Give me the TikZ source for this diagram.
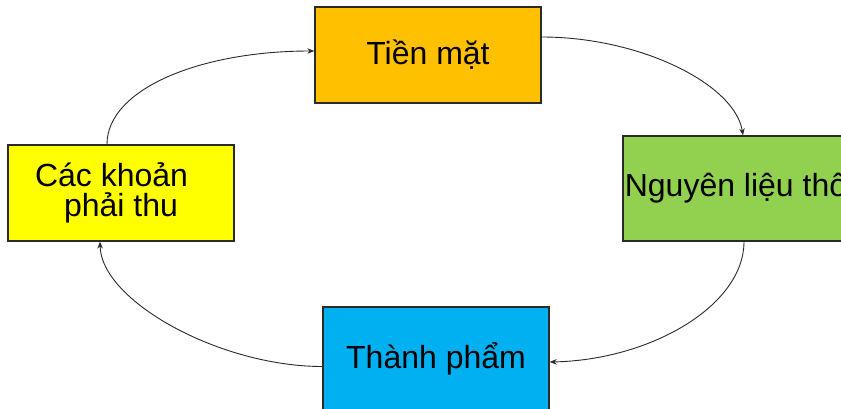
\documentclass[tikz,border=0pt]{standalone}
\usepackage{fontspec}
\setmainfont{Liberation Sans}
\usetikzlibrary{arrows.meta}
\definecolor{cashc}{HTML}{FFC000}
\definecolor{rawc}{HTML}{92D050}
\definecolor{prodc}{HTML}{00B0F0}
\definecolor{recc}{HTML}{FFFF00}
\definecolor{edgec}{HTML}{2A2A2A}
\tikzset{
  stagebox/.style={draw=edgec, line width=1.3pt, inner sep=0pt, minimum width=226pt,
    font=\fontsize{32pt}{30pt}\selectfont, text=black, align=center},
  flow/.style={draw=edgec, line width=0.9pt, -{Stealth[length=7pt,width=5.5pt]}}
}
\begin{document}
\begin{tikzpicture}[x=1pt,y=-1pt]
\useasboundingbox (0,0) rectangle (841,409);
\clip (0,0) rectangle (841,409);
\node[stagebox, fill=cashc, minimum height=96pt] (tien) at (428,55) {Tiền mặt};
\node[stagebox, fill=rawc, minimum height=105pt] (nguyen) at (736,188.5) {Nguyên liệu thô};
\node[stagebox, fill=prodc, minimum height=103pt] (thanh) at (436,358.5) {Thành phẩm};
\node[stagebox, fill=recc, minimum height=96pt] (cac) at (121,193) {Các khoản\hspace*{19pt}\\phải thu};
\draw[flow] ([yshift=18pt]tien.east) .. controls +(99,0) and +(-8,-51) .. ([xshift=7pt]nguyen.north);
\draw[flow] ([xshift=8pt]nguyen.south) .. controls +(0,64) and +(101,-2) .. ([yshift=-3.5pt]thanh.east);
\draw[flow] ([yshift=-8pt]thanh.west) .. controls +(-103,0) and +(1,59) .. ([xshift=-21pt]cac.south);
\draw[flow] ([xshift=-14pt]cac.north) .. controls +(0,-55) and +(-115,0) .. ([yshift=4pt]tien.west);
\end{tikzpicture}
\end{document}
